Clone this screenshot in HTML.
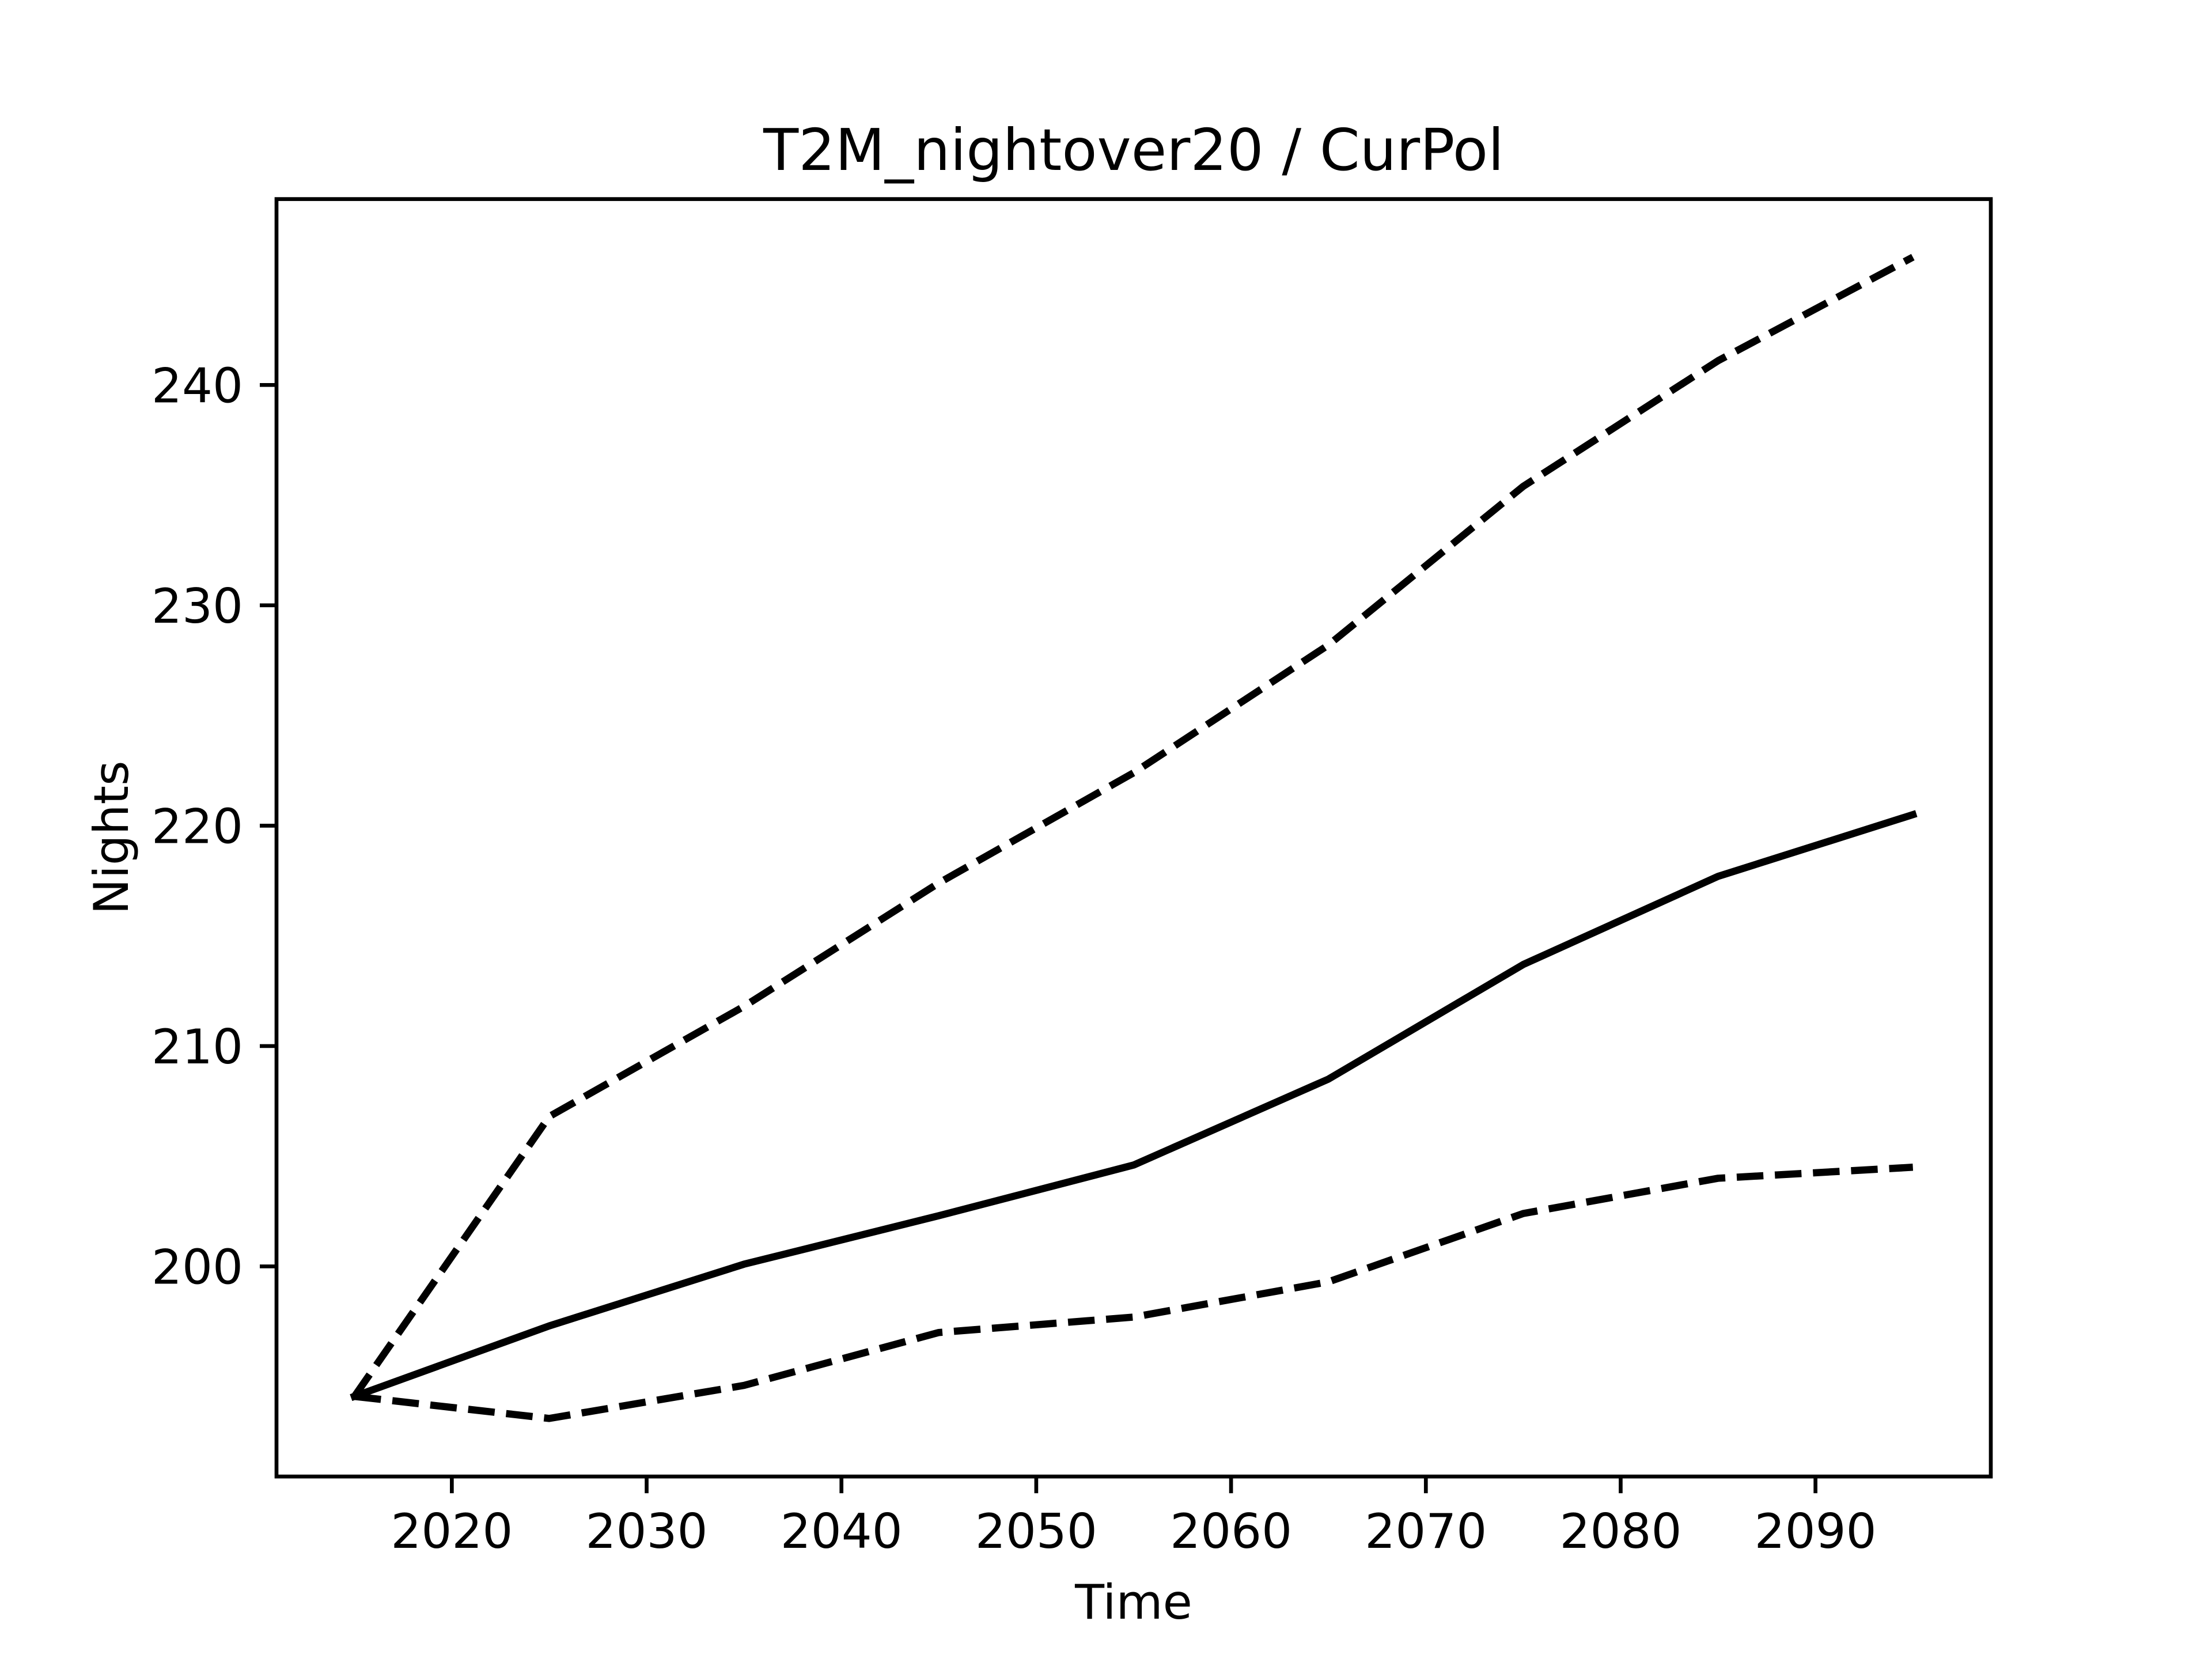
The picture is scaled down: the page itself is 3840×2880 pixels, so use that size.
<!DOCTYPE html>
<html><head><meta charset="utf-8"><style>html,body{margin:0;padding:0;background:#fff}svg{display:block}</style></head>
<body>
<svg id="chart" width="3840" height="2880" viewBox="0 0 3840 2880" xmlns="http://www.w3.org/2000/svg" font-family="DejaVu Sans, Liberation Sans, sans-serif">
<rect width="3840" height="2880" fill="#fff"/>
<g id="plot"></g>
<text x="1968" y="295" font-size="100" text-anchor="middle">T2M_nightover20 / CurPol</text>
<text x="1968" y="2810" font-size="83.3" text-anchor="middle">Time</text>
<text transform="translate(222,1454) rotate(-90)" font-size="83.3" text-anchor="middle">Nights</text>
</svg>
<script>
const years = [2015,2025,2035,2045,2055,2065,2075,2085,2095];
const median = [194.1,197.3,200.1,202.3,204.6,208.5,213.7,217.7,220.5];
const upper = [194.1,206.8,211.8,217.4,222.4,228.2,235.4,241.1,245.8];
const lower = [194.1,193.1,194.6,197.0,197.7,199.3,202.4,204.0,204.5];
const xTicks = [2020,2030,2040,2050,2060,2070,2080,2090];
const yTicks = [200,210,220,230,240];

const L=480,R=3456,T=345.6,B=2563.2;
const NS='http://www.w3.org/2000/svg';
const xmin=Math.min(...years),xmax=Math.max(...years),xm=(xmax-xmin)*0.05;
const all=median.concat(upper,lower);
const ymin=Math.min(...all),ymax=Math.max(...all),ym=(ymax-ymin)*0.05;
const X=v=>L+(v-(xmin-xm))/((xmax+xm)-(xmin-xm))*(R-L);
const Y=v=>B-(v-(ymin-ym))/((ymax+ym)-(ymin-ym))*(B-T);
const g=document.getElementById('plot');
function mk(t,a){const e=document.createElementNS(NS,t);for(const k in a)e.setAttribute(k,a[k]);g.appendChild(e);return e;}
function series(vals,name,dash){
  const p=mk('polyline',{points:years.map((y,i)=>X(y)+','+Y(vals[i])).join(' '),fill:'none',stroke:'#000','stroke-width':12.5,'stroke-linejoin':'round','stroke-linecap':dash?'butt':'square'});
  if(dash)p.setAttribute('stroke-dasharray','46.25 20');
  
  
}
series(upper,'upper-bound-line',true);
series(lower,'lower-bound-line',true);
series(median,'median-line',false);
const fr=mk('rect',{x:L,y:T,width:R-L,height:B-T,fill:'none',stroke:'#000','stroke-width':6.67});


xTicks.forEach(t=>{
  const x=X(t);
  const l=mk('line',{x1:x,x2:x,y1:B,y2:B+29,stroke:'#000','stroke-width':6.67});
  
  
  const tx=mk('text',{x:x,y:B+29+29+66,'font-size':83.3,'text-anchor':'middle'});
  tx.textContent=t;
  
  
});
yTicks.forEach(t=>{
  const y=Y(t);
  const l=mk('line',{x1:L-29,x2:L,y1:y,y2:y,stroke:'#000','stroke-width':6.67});
  
  
  const tx=mk('text',{x:L-29-29,y:y+30,'font-size':83.3,'text-anchor':'end'});
  tx.textContent=t;
  
  
});
</script>
</body></html>
